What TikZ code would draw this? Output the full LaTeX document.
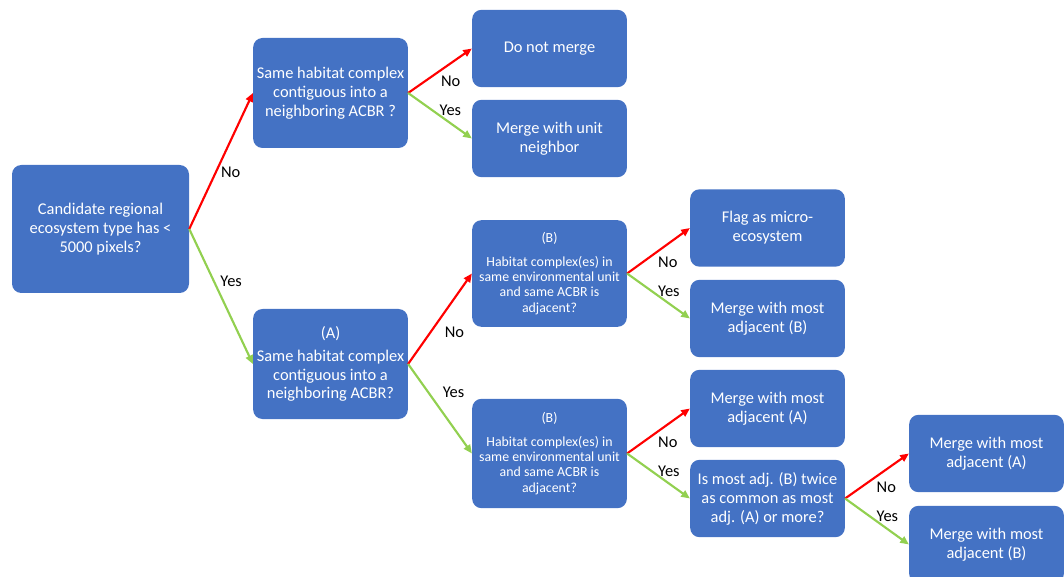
\documentclass[tikz,border=0pt]{standalone}
\usepackage{fontspec}
\setmainfont{Carlito}
\usetikzlibrary{arrows.meta}
\definecolor{boxblue}{HTML}{4472C4}
\definecolor{nored}{HTML}{FF0000}
\definecolor{yesgreen}{HTML}{92D050}
\tikzset{
  decision/.style={fill=boxblue, rounded corners=7pt, text=white, align=center,
    minimum width=116pt, minimum height=58pt, inner sep=2pt,
    font=\fontsize{12.3}{14.2}\selectfont},
  smalldecision/.style={decision, font=\fontsize{10.4}{11.5}\selectfont},
  noline/.style={nored, line width=1.6pt, -{Triangle[length=6.5pt,width=5.5pt]}},
  yesline/.style={yesgreen, line width=1.6pt, -{Triangle[length=6.5pt,width=5.5pt]}},
  branch/.style={font=\fontsize{12.3}{14}\selectfont, text=black, inner sep=1pt}
}

\begin{document}
\begin{tikzpicture}[x=0.75pt, y=-0.75pt]
  \useasboundingbox (0,0) rectangle (1064,577);
  \clip (0,0) rectangle (1064,577);

  % Start
  \node[decision, minimum width=132.75pt, minimum height=96pt] (candidate) at (100.5,229)
    {Candidate regional\\ecosystem type has <\\5000 pixels?};

  % Second column
  \node[decision, minimum height=82.5pt] (contig) at (330.5,93)
    {Same habitat complex\\contiguous into a\\neighboring ACBR ?};
  \node[decision, minimum height=82.5pt] (contigA) at (330.5,364)
    {(A)\\[3pt]Same habitat complex\\contiguous into a\\neighboring ACBR?};

  % Third column
  \node[decision] (nomerge) at (549.5,48.5) {Do not merge};
  \node[decision] (mergeunit) at (549.5,138.5) {Merge with unit\\neighbor};
  \node[smalldecision, minimum height=80pt] (adjB1) at (549.5,273.5)
    {(B)\\[6pt]Habitat complex(es) in\\same environmental unit\\and same ACBR is\\adjacent?};
  \node[smalldecision, minimum height=82pt] (adjB2) at (549.5,453.5)
    {(B)\\[6pt]Habitat complex(es) in\\same environmental unit\\and same ACBR is\\adjacent?};

  % Fourth column
  \node[decision] (flagmicro) at (767.5,228) {Flag as micro-\\ecosystem};
  \node[decision] (mergeB) at (767.5,318.5) {Merge with most\\adjacent (B)};
  \node[decision] (mergeA) at (767.5,408.5) {Merge with most\\adjacent (A)};
  \node[decision] (twice) at (767.5,498.5) {Is most adj. (B) twice\\as common as most\\adj. (A) or more?};

  % Last column
  \node[decision] (mergeAlast) at (986.5,453.5) {Merge with most\\adjacent (A)};
  \node[decision] (mergeBlast) at (986.5,544.5) {Merge with most\\adjacent (B)};

  % Branches
  \draw[noline] (candidate.east) -- node[branch, pos=.42, anchor=west, xshift=2pt] {No} (contig.west);
  \draw[yesline] (candidate.east) -- node[branch, pos=.39, anchor=west, xshift=3pt] {Yes} (contigA.west);

  \draw[noline] (contig.east) -- node[branch, pos=.5, anchor=north west, xshift=-1pt, yshift=-2pt] {No} (nomerge.west);
  \draw[yesline] (contig.east) -- node[branch, pos=.5, anchor=south west, xshift=-2pt, yshift=-2pt] {Yes} (mergeunit.west);

  \draw[noline] (contigA.east) -- node[branch, pos=.35, anchor=west, xshift=9pt] {No} (adjB1.west);
  \draw[yesline] (contigA.east) -- node[branch, pos=.32, anchor=west, xshift=9pt] {Yes} (adjB2.west);

  \draw[noline] (adjB1.east) -- node[branch, pos=.5, anchor=north west, xshift=-2pt, yshift=-3pt] {No} (flagmicro.west);
  \draw[yesline] (adjB1.east) -- node[branch, pos=.5, anchor=south west, xshift=-2pt, yshift=-2pt] {Yes} (mergeB.west);

  \draw[noline] (adjB2.east) -- node[branch, pos=.5, anchor=north west, xshift=-2pt, yshift=-3pt] {No} (mergeA.west);
  \draw[yesline] (adjB2.east) -- node[branch, pos=.5, anchor=south west, xshift=-2pt, yshift=-2pt] {Yes} (twice.west);

  \draw[noline] (twice.east) -- node[branch, pos=.5, anchor=north west, xshift=-2pt, yshift=-3pt] {No} (mergeAlast.west);
  \draw[yesline] (twice.east) -- node[branch, pos=.5, anchor=south west, xshift=-2pt, yshift=-2pt] {Yes} (mergeBlast.west);
\end{tikzpicture}
\end{document}
